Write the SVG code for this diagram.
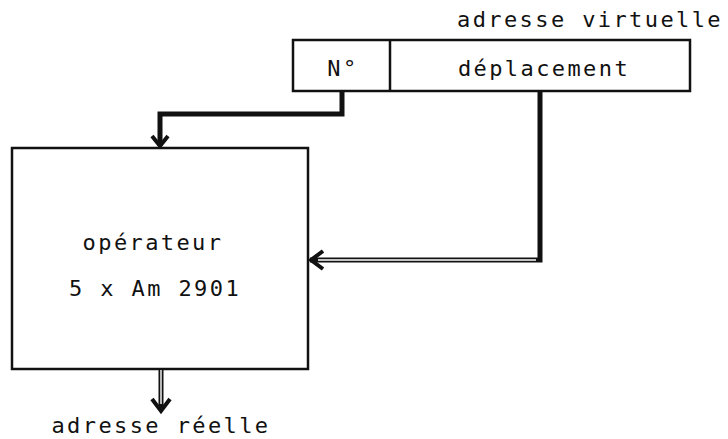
<svg xmlns="http://www.w3.org/2000/svg" width="728" height="439" viewBox="0 0 728 439">
  <style>
    .t { font-family: "DejaVu Sans Mono", "Liberation Mono", monospace; font-size: 22px; letter-spacing: 2.4px; fill: #111; }
    .box { fill: none; stroke: #111; stroke-width: 2.5; }
    .bus { fill: none; stroke: #111; stroke-width: 5; stroke-linejoin: miter; }
    .busin { fill: none; stroke: #fff; stroke-width: 1.4; }
    .head { fill: none; stroke: #111; stroke-width: 4; stroke-linecap: butt; stroke-linejoin: miter; }
  </style>
  <rect width="728" height="439" fill="#fff"/>

  <g id="adresse-virtuelle">
    <text class="t" x="590" y="27" text-anchor="middle">adresse virtuelle</text>
    <rect class="box" x="293" y="40" width="397" height="51"/>
    <line class="box" x1="390" y1="40" x2="390" y2="91"/>
    <text class="t" x="343" y="76" text-anchor="middle">N°</text>
    <text class="t" x="544" y="76" text-anchor="middle">déplacement</text>
  </g>

  <g id="operateur">
    <rect class="box" x="12" y="148" width="296" height="221"/>
    <text class="t" x="153" y="250" text-anchor="middle">opérateur</text>
    <text class="t" x="155" y="296" text-anchor="middle">5 x Am 2901</text>
  </g>

  <g id="adresse-reelle">
    <text class="t" x="161" y="433" text-anchor="middle">adresse réelle</text>
  </g>

  <g id="connectors">
    <!-- numéro de segment vers l'opérateur -->
    <polyline class="bus" points="342,91 342,114 160,114 160,146"/>
    <polyline class="head" points="152,136 160,146 168,136"/>
    <!-- déplacement vers l'opérateur -->
    <polyline class="bus" points="540,91 540,260 310,260"/>
    <line class="busin" x1="536" y1="260" x2="318" y2="260"/>
    <polyline class="head" points="323,251 311,260 323,269"/>
    <!-- sortie adresse réelle -->
    <line class="bus" x1="161" y1="369" x2="161" y2="408"/>
    <line class="busin" x1="161" y1="370" x2="161" y2="404"/>
    <polyline class="head" points="152,399 161,411 170,399"/>
  </g>
</svg>
